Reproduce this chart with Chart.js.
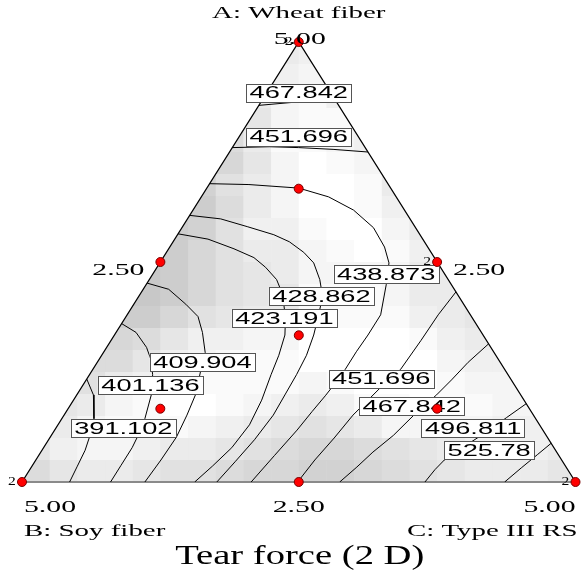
<!DOCTYPE html>
<html>
<head>
<meta charset="utf-8">
<title>Tear force (2 D)</title>
<script src="https://cdn.jsdelivr.net/npm/chart.js@4.4.1/dist/chart.umd.min.js"></script>
<style>
  html, body { margin: 0; padding: 0; background: #fff; }
  #wrap { width: 581px; height: 572px; }
</style>
</head>
<body>
<div id="wrap"><canvas id="ternary" width="581" height="572"></canvas></div>
<script>
// Mixture of three fibers, total amount 5.00.
// Points are kept as [A, C]  (A = wheat fiber, C = type III RS, B = soy fiber = 5 - A - C)
const total = 5;
const vertexNames = ['A: Wheat fiber', 'B: Soy fiber', 'C: Type III RS'];
const chartTitle = 'Tear force (2 D)';
const tickFull = '5.00';
const tickHalf = '2.50';

// design runs and how many times each was replicated
const designPoints = [[5, 0], [0, 0], [0, 5], [2.5, 0], [2.5, 2.5], [0, 2.5],
  [1.667, 1.667], [3.333, 0.833], [0.833, 0.833], [0.833, 3.333]];
const replicates = [2, 2, 2, 1, 2, 1, 1, 1, 1, 1];

// contour levels of the fitted tear force
const levels = [391.102, 401.136, 409.904, 423.191, 428.862, 438.873, 451.696, 467.842, 496.811, 525.78];

const contour467top = [[4.28, 0], [4.32, 0.34], [4.34, 0.66]];
const contour451top = [[3.80, 0], [3.81, 0.33], [3.80, 0.60], [3.78, 0.92], [3.75, 1.25]];
const contour438 = [[3.39, 0], [3.38, 0.36], [3.34, 0.83], [3.24, 1.15], [3.09, 1.45], [2.89, 1.73],
  [2.67, 1.94], [2.49, 2.07], [2.24, 2.17], [1.90, 2.29], [1.67, 2.29], [1.48, 2.28], [1.28, 2.28],
  [1.14, 2.27], [0.98, 2.25], [0.80, 2.22], [0.59, 2.19], [0.30, 2.13], [0, 2.07]];
const contour428 = [[3.03, 0], [2.99, 0.30], [2.90, 0.59], [2.81, 0.87], [2.73, 1.05], [2.61, 1.24],
  [2.49, 1.39], [2.30, 1.54], [2.11, 1.66], [1.90, 1.73], [1.67, 1.80], [1.44, 1.85], [1.22, 1.87],
  [0.99, 1.88], [0.76, 1.89], [0.48, 1.86], [0.23, 1.81], [0, 1.76]];
const contour423 = [[2.82, 0], [2.76, 0.30], [2.65, 0.59], [2.55, 0.82], [2.44, 0.98], [2.30, 1.15],
  [2.13, 1.29], [1.86, 1.45], [1.67, 1.54], [1.44, 1.60], [1.22, 1.64], [0.93, 1.70], [0.65, 1.73],
  [0.39, 1.70], [0.18, 1.63], [0, 1.56]];
const contour409 = [[2.26, 0], [2.19, 0.23], [2.02, 0.47], [1.88, 0.65], [1.70, 0.78], [1.47, 0.92],
  [1.33, 0.96], [1.18, 1.01], [1.00, 1.07], [0.76, 1.11], [0.51, 1.14], [0.25, 1.13], [0, 1.11]];
const contour401 = [[1.80, 0], [1.70, 0.18], [1.53, 0.36], [1.39, 0.47], [1.22, 0.57], [1.00, 0.67],
  [0.72, 0.75], [0.57, 0.78], [0.39, 0.80], [0.19, 0.80], [0, 0.80]];
const contour391 = [[1.17, 0], [0.99, 0.15], [0.72, 0.29], [0.57, 0.34], [0.36, 0.39], [0.18, 0.41], [0, 0.43]];
const contour451 = [[2.16, 2.84], [1.90, 2.81], [1.61, 2.80], [1.28, 2.78], [1.10, 2.71], [0.93, 2.66],
  [0.76, 2.61], [0.50, 2.57], [0.25, 2.52], [0, 2.49]];
const contour467 = [[1.57, 3.43], [1.36, 3.35], [1.16, 3.30], [0.99, 3.25], [0.76, 3.16], [0.53, 3.09],
  [0.34, 3.00], [0.17, 2.94], [0, 2.87]];
const contour496 = [[0.89, 4.11], [0.73, 4.01], [0.61, 3.94], [0.51, 3.87], [0.40, 3.79], [0.25, 3.69],
  [0.14, 3.66], [0, 3.64]];
const contour525 = [[0.44, 4.56], [0.31, 4.50], [0.16, 4.43], [0, 4.36]];

const contours = [
  { level: levels[7], pts: contour467top },
  { level: levels[6], pts: contour451top },
  { level: levels[5], pts: contour438 },
  { level: levels[4], pts: contour428 },
  { level: levels[3], pts: contour423 },
  { level: levels[2], pts: contour409 },
  { level: levels[1], pts: contour401 },
  { level: levels[0], pts: contour391 },
  { level: levels[6], pts: contour451 },
  { level: levels[7], pts: contour467 },
  { level: levels[8], pts: contour496 },
  { level: levels[9], pts: contour525 }
];

// where each level label sits, [A, C]
const labelLevels = [467.842, 451.696, 438.873, 428.862, 423.191, 409.904, 401.136, 391.102,
  451.696, 467.842, 496.811, 525.78];
const labelAt = [[4.42, 0.29], [3.92, 0.54], [2.36, 2.11], [2.11, 1.65], [1.86, 1.44], [1.36, 0.95],
  [1.10, 0.61], [0.61, 0.61], [1.17, 2.66], [0.86, 3.09], [0.61, 3.77], [0.36, 4.04]];

// 20 x 20 background shading, top row first; 0 = white, each step 5 grey levels darker
const shadeRows = [
  '00000000043000000000',
  '00000000332300000000',
  '00000000421300000000',
  '00000005521130000000',
  '00000007411230000000',
  '00000088520124000000',
  '00000096420014000000',
  '00000aa7420013400000',
  '00000a96331002400000',
  '0000aa86442101350000',
  '0000ba86542222440000',
  '000bba86551112445000',
  '000aa865441111345000',
  '00887533220000134400',
  '00775321110000023300',
  '06643211112100012230',
  '05421001234311011220',
  '54211123456542222333',
  '53223445678876543334',
  '75445667889987654445'
];

const toXY = ([a, c]) => ({ x: (c + a / 2) / total, y: a / total });

function px(chart, p) {
  const q = toXY(p);
  return { x: chart.scales.x.getPixelForValue(q.x), y: chart.scales.y.getPixelForValue(q.y) };
}

function trianglePath(ctx, chart) {
  const a = px(chart, [total, 0]), b = px(chart, [0, 0]), c = px(chart, [0, total]);
  ctx.beginPath();
  ctx.moveTo(a.x, a.y);
  ctx.lineTo(b.x, b.y);
  ctx.lineTo(c.x, c.y);
  ctx.closePath();
  return { a, b, c };
}

function stretchText(ctx, text, x, y, font, sx, align) {
  ctx.save();
  ctx.font = font;
  const w = ctx.measureText(text).width * sx;
  let left = x;
  if (align === 'center') left = x - w / 2;
  else if (align === 'right') left = x - w;
  ctx.translate(left, y);
  ctx.scale(sx, 1);
  ctx.textAlign = 'left';
  ctx.textBaseline = 'middle';
  ctx.fillStyle = '#000';
  ctx.fillText(text, 0, 0);
  ctx.restore();
  return w;
}

const serif = '"Liberation Serif", "Times New Roman", serif';
const sans = '"Liberation Sans", Arial, sans-serif';

const ternaryPlugin = {
  id: 'ternary',
  beforeDatasetsDraw(chart) {
    const ctx = chart.ctx;
    const xs = chart.scales.x, ys = chart.scales.y;
    ctx.save();
    trianglePath(ctx, chart);
    ctx.clip();
    const n = shadeRows.length;
    shadeRows.forEach((row, j) => {
      row.split('').forEach((ch, i) => {
        const g = 255 - parseInt(ch, 16) * 5;
        const x0 = xs.getPixelForValue(i / n), x1 = xs.getPixelForValue((i + 1) / n);
        const y0 = ys.getPixelForValue(1 - j / n), y1 = ys.getPixelForValue(1 - (j + 1) / n);
        ctx.fillStyle = `rgb(${g},${g},${g})`;
        ctx.fillRect(x0, y0, x1 - x0 + 0.5, y1 - y0 + 0.5);
      });
    });
    ctx.restore();

    // triangle edges
    const a = px(chart, [total, 0]), b = px(chart, [0, 0]), c = px(chart, [0, total]);
    ctx.save();
    ctx.lineWidth = 1.3;
    ctx.strokeStyle = '#000';
    ctx.beginPath();
    ctx.moveTo(b.x, b.y);
    ctx.lineTo(a.x, a.y);
    ctx.lineTo(c.x, c.y);
    ctx.stroke();
    ctx.strokeStyle = '#8a8a8a';
    ctx.lineWidth = 2;
    ctx.beginPath();
    ctx.moveTo(b.x, b.y);
    ctx.lineTo(c.x, c.y);
    ctx.stroke();
    ctx.restore();
  },
  afterDatasetDraw(chart, args) {
    // level labels go over the contour lines but under the design points
    if (args.index !== 1) return;
    const ctx = chart.ctx;
    const font = '16px ' + sans;
    const sx = 1.7;
    labelLevels.forEach((v, k) => {
      const p = px(chart, labelAt[k]);
      const text = String(v);
      ctx.save();
      ctx.font = font;
      const tw = ctx.measureText(text).width * sx;
      const w = tw + 7, h = 18;
      ctx.fillStyle = '#fff';
      ctx.fillRect(p.x - w / 2, p.y - h / 2, w, h);
      ctx.strokeStyle = '#555';
      ctx.lineWidth = 1;
      ctx.strokeRect(Math.round(p.x - w / 2) + 0.5, Math.round(p.y - h / 2) + 0.5, Math.round(w), h);
      ctx.restore();
      stretchText(ctx, text, p.x, p.y + 1, font, sx, 'center');
    });
  },
  afterDraw(chart) {
    const ctx = chart.ctx;
    const a = px(chart, [total, 0]), b = px(chart, [0, 0]), c = px(chart, [0, total]);
    const ab = px(chart, [total / 2, 0]), ac = px(chart, [total / 2, total / 2]), bc = px(chart, [0, total / 2]);
    const big = '17px ' + serif;

    stretchText(ctx, vertexNames[0], a.x, a.y - 28, big, 1.7, 'center');
    stretchText(ctx, tickFull, a.x + 1, a.y - 2, big, 1.75, 'center');
    stretchText(ctx, tickHalf, ab.x - 42, ab.y + 9, big, 1.75, 'center');
    stretchText(ctx, tickHalf, ac.x + 42, ac.y + 9, big, 1.75, 'center');

    const tickY = b.y + 26;
    stretchText(ctx, tickFull, b.x + 28, tickY, big, 1.75, 'center');
    stretchText(ctx, tickHalf, bc.x, tickY, big, 1.75, 'center');
    stretchText(ctx, tickFull, c.x - 26, tickY, big, 1.75, 'center');
    stretchText(ctx, vertexNames[1], b.x + 2, b.y + 50, big, 1.7, 'left');
    stretchText(ctx, vertexNames[2], c.x + 2, c.y + 50, big, 1.7, 'right');
    stretchText(ctx, chartTitle, (b.x + c.x) / 2 + 1, b.y + 75, '27px ' + serif, 1.43, 'center');

    // replicate counts beside the repeated runs
    const small = '12px ' + serif;
    designPoints.forEach((p, k) => {
      if (replicates[k] < 2) return;
      const q = px(chart, p);
      stretchText(ctx, String(replicates[k]), q.x - 10, q.y, small, 1.3, 'center');
    });
  }
};

new Chart(document.getElementById('ternary'), {
  type: 'scatter',
  data: {
    datasets: [
      {
        label: 'Design points',
        data: designPoints.map(toXY),
        pointRadius: 4.5,
        pointBackgroundColor: '#ff0000',
        pointBorderColor: '#7a0000',
        pointBorderWidth: 1,
        showLine: false,
        clip: false
      },
      ...contours.map(c => ({
        label: String(c.level),
        data: c.pts.map(toXY),
        showLine: true,
        borderColor: '#000',
        borderWidth: 1,
        pointRadius: 0,
        tension: 0,
        fill: false
      }))
    ]
  },
  options: {
    responsive: false,
    animation: false,
    layout: { padding: { left: 22, right: 3, top: 42, bottom: 90 } },
    plugins: { legend: { display: false }, tooltip: { enabled: false } },
    scales: {
      x: { type: 'linear', min: 0, max: 1, display: false },
      y: { type: 'linear', min: 0, max: 1, display: false }
    }
  },
  plugins: [ternaryPlugin]
});
</script>
</body>
</html>
